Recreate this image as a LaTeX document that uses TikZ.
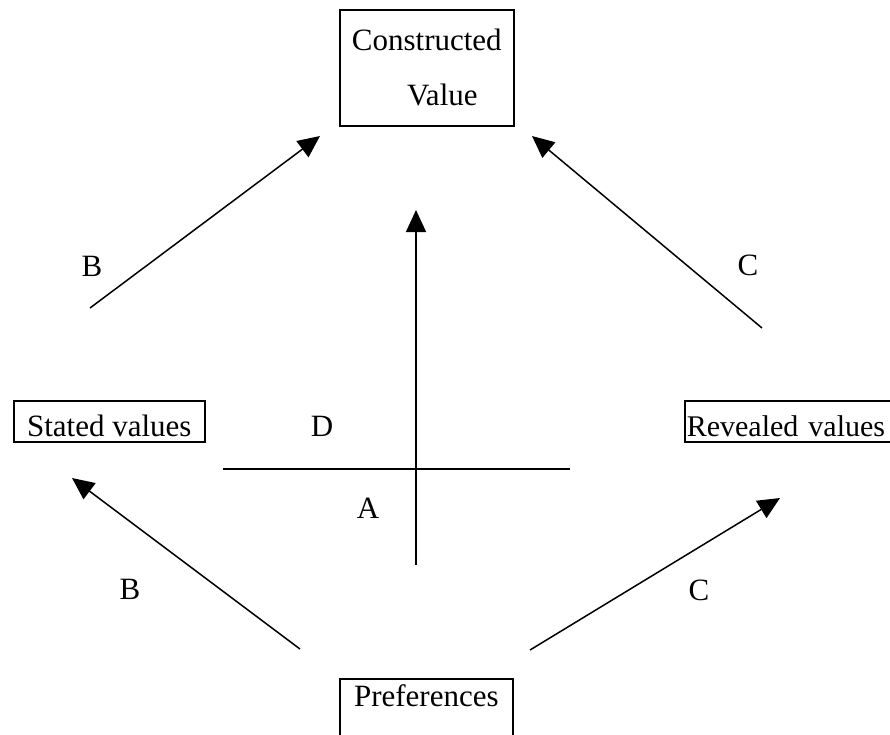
\documentclass[tikz,border=0pt]{standalone}
\usepackage{fontspec}
\setmainfont{Liberation Serif}
\usetikzlibrary{arrows.meta}

\begin{document}
\begin{tikzpicture}[x=1pt, y=-1pt, font=\fontsize{31}{55}\selectfont,
  valbox/.style={draw, line width=1.6pt, inner sep=0pt, anchor=north west},
  link/.style={line width=1.5pt, -{Triangle[length=22pt, width=20pt]}}]
  \useasboundingbox (0,0) rectangle (890,734);
  \clip (0,0) rectangle (890,734);
  % boxes
  \node[valbox, minimum width=174pt, minimum height=116pt, align=center] (cval) at (339,9) {Constructed\\\hspace*{1em}Value};
  \node[valbox, minimum width=191pt, text height=36pt, text depth=5pt] (stated) at (13,400) {Stated values};
  \node[valbox, font=\fontsize{30}{36}\selectfont, text height=36pt, text depth=5pt, inner xsep=2pt, text width=222pt] (revealed) at (684,400) {Revealed values};
  \node[valbox, minimum width=173pt, text height=28pt, text depth=40pt] (prefs) at (339,678) {Preferences};
  % arrow ends
  \coordinate (bUp0) at (90,308);   \coordinate (bUp1) at (320,136);
  \coordinate (cUp0) at (762,328);  \coordinate (cUp1) at (532,136);
  \coordinate (aUp0) at (416,565);  \coordinate (aUp1) at (416,210);
  \coordinate (bLo0) at (300,649);  \coordinate (bLo1) at (72,478);
  \coordinate (cLo0) at (530,650);  \coordinate (cLo1) at (780,498);
  \coordinate (dL) at (223,469);    \coordinate (dR) at (570,469);
  \draw[link] (bUp0) -- (bUp1);
  \draw[link] (cUp0) -- (cUp1);
  \draw[link] (aUp0) -- (aUp1);
  \draw[link] (bLo0) -- (bLo1);
  \draw[link] (cLo0) -- (cLo1);
  \draw[line width=1.5pt] (dL) -- (dR);
  % labels
  \node (labB1) at (92,266) {B};
  \node (labC1) at (748,265) {C};
  \node (labD) at (322,426) {D};
  \node (labA) at (368,508) {A};
  \node (labB2) at (130,589) {B};
  \node (labC2) at (699,590) {C};
\end{tikzpicture}
\end{document}
